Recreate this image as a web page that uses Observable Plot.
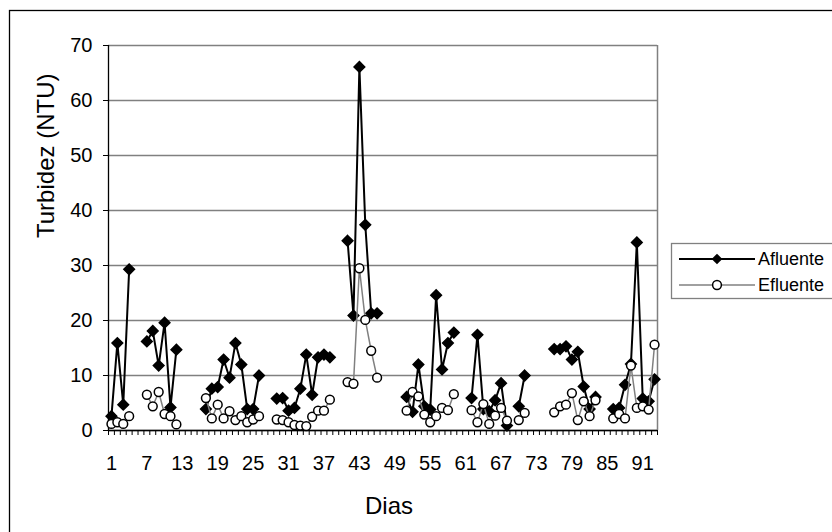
<!DOCTYPE html>
<html><head><meta charset="utf-8">
<script src="https://cdn.jsdelivr.net/npm/d3@7"></script>
<script src="https://cdn.jsdelivr.net/npm/@observablehq/plot@0.6"></script>
<style>
body{margin:0;background:#fff;}
#chart{position:relative;width:832px;height:532px;overflow:hidden;background:#fff;}
</style>
</head><body><div id="chart"></div>
<script>
const days = [1,2,3,4, 7,8,9,10,11,12, 17,18,19,20,21,22,23,24,25,26, 29,30,31,32,33,34,35,36,37,38,
  41,42,43,44,45,46, 51,52,53,54,55,56,57,58,59, 62,63,64,65,66,67,68,70,71,
  76,77,78,79,80,81,82,83, 86,87,88,89,90,91,92,93];
const afluente = [2.6,15.9,4.7,29.3, 16.2,18.1,11.8,19.6,4.2,14.7, 3.9,7.6,7.9,12.9,9.6,15.9,12.0,3.9,3.9,10.0,
  5.8,5.9,3.6,4.1,7.6,13.8,6.5,13.3,13.8,13.3, 34.5,20.9,66.1,37.4,21.3,21.3,
  6.1,3.4,12.0,4.4,3.8,24.6,11.1,15.9,17.8, 5.9,17.4,3.9,3.5,5.5,8.6,0.9,4.4,10.0,
  14.8,14.8,15.3,12.9,14.3,8.0,3.9,6.1, 3.9,4.1,8.3,12.1,34.2,5.8,5.3,9.3];
const efluente = [1.2,1.5,1.2,2.6, 6.5,4.4,7.0,3.0,2.6,1.1, 5.9,2.2,4.7,2.2,3.5,1.9,2.6,1.5,2.0,2.6,
  2.0,1.9,1.5,1.0,0.9,0.8,2.5,3.6,3.6,5.6, 8.8,8.5,29.5,20.1,14.5,9.6,
  3.6,7.0,6.2,2.9,1.5,2.6,4.1,3.7,6.6, 3.7,1.5,4.8,1.2,2.7,4.1,1.8,1.9,3.2,
  3.3,4.4,4.7,6.8,1.9,5.3,2.6,5.5, 2.2,3.0,2.2,11.8,4.1,4.4,3.8,15.6];
const xTickLabels = [1,7,13,19,25,31,37,43,49,55,61,67,73,79,85,91];
const yTicks = [0,10,20,30,40,50,60,70];
const seriesNames = ["Afluente","Efluente"];
const xTitle = "Dias";
const yTitle = "Turbidez (NTU)";
const nDays = 93;

const rows = d3.range(1, nDays + 1).map(d => {
  const i = days.indexOf(d);
  return {day: d, afl: i >= 0 ? afluente[i] : NaN, efl: i >= 0 ? efluente[i] : NaN};
});

const font = "'Liberation Sans', Arial, sans-serif";
const plot = Plot.plot({
  width: 832, height: 532,
  marginLeft: 108, marginRight: 175, marginTop: 45, marginBottom: 102,
  style: {fontFamily: font, background: "white", color: "black"},
  x: {domain: [0.5, nDays + 0.5], axis: null},
  y: {domain: [0, 70], axis: null},
  marks: [
    Plot.ruleY(yTicks, {stroke: "#808080", strokeWidth: 1.3}),
    Plot.ruleX([nDays + 0.5], {stroke: "#808080", strokeWidth: 1.5}),
    Plot.axisY({ticks: yTicks, tickSize: 5, tickPadding: 11, fontSize: 20, stroke: "black", fill: "black", label: null}),
    Plot.axisX({ticks: d3.range(0.5, nDays + 1, 1), tickSize: 5, tickFormat: () => "", stroke: "black", label: null}),
    Plot.axisX({ticks: xTickLabels, tickSize: 0, tickPadding: 25, fontSize: 20, fill: "black", label: null}),
    Plot.ruleY([0], {stroke: "black", strokeWidth: 1.3}),
    Plot.ruleX([0.5], {stroke: "black", strokeWidth: 1.3}),
    Plot.line(rows, {x: "day", y: "afl", stroke: "black", strokeWidth: 2}),
    Plot.dot(rows, {x: "day", y: "afl", symbol: "diamond2", r: 4.8, fill: "black", stroke: "black"}),
    Plot.line(rows, {x: "day", y: "efl", stroke: "#808080", strokeWidth: 1.5}),
    Plot.dot(rows, {x: "day", y: "efl", r: 4.4, fill: "white", stroke: "black", strokeWidth: 1.5}),
    Plot.text([xTitle], {frameAnchor: "bottom", dy: 83, dx: 6, fontSize: 24, fill: "black"}),
    Plot.text([yTitle], {frameAnchor: "left", dx: -62, rotate: -90, fontSize: 24, fill: "black"})
  ]
});

const svg = d3.select(plot);
// chart area frame
svg.append("rect").attr("x", 9.5).attr("y", 10.5).attr("width", 900).attr("height", 600)
  .attr("fill", "none").attr("stroke", "black").attr("stroke-width", 1.3);
// legend
const lg = svg.append("g").attr("font-family", font).attr("text-anchor", "start");
lg.append("rect").attr("x", 671.5).attr("y", 243.5).attr("width", 200).attr("height", 55)
  .attr("fill", "white").attr("stroke", "#808080").attr("stroke-width", 1.3);
const ly = [259, 285];
lg.append("line").attr("x1", 679).attr("x2", 755).attr("y1", ly[0]).attr("y2", ly[0]).attr("stroke", "black").attr("stroke-width", 2);
lg.append("path").attr("d", d3.symbol(d3.symbolDiamond2, Math.PI * 4.8 * 4.8)()).attr("transform", `translate(717,${ly[0]})`).attr("fill", "black");
lg.append("line").attr("x1", 679).attr("x2", 755).attr("y1", ly[1]).attr("y2", ly[1]).attr("stroke", "#808080").attr("stroke-width", 1.5);
lg.append("circle").attr("cx", 717).attr("cy", ly[1]).attr("r", 4.4).attr("fill", "white").attr("stroke", "black").attr("stroke-width", 1.5);
seriesNames.forEach((n, i) => {
  lg.append("text").attr("x", 758).attr("y", ly[i]).attr("dy", "0.35em").attr("text-anchor", "start")
    .attr("font-size", 18).attr("fill", "black").text(n);
});

document.getElementById("chart").appendChild(plot);
</script>
</body></html>
